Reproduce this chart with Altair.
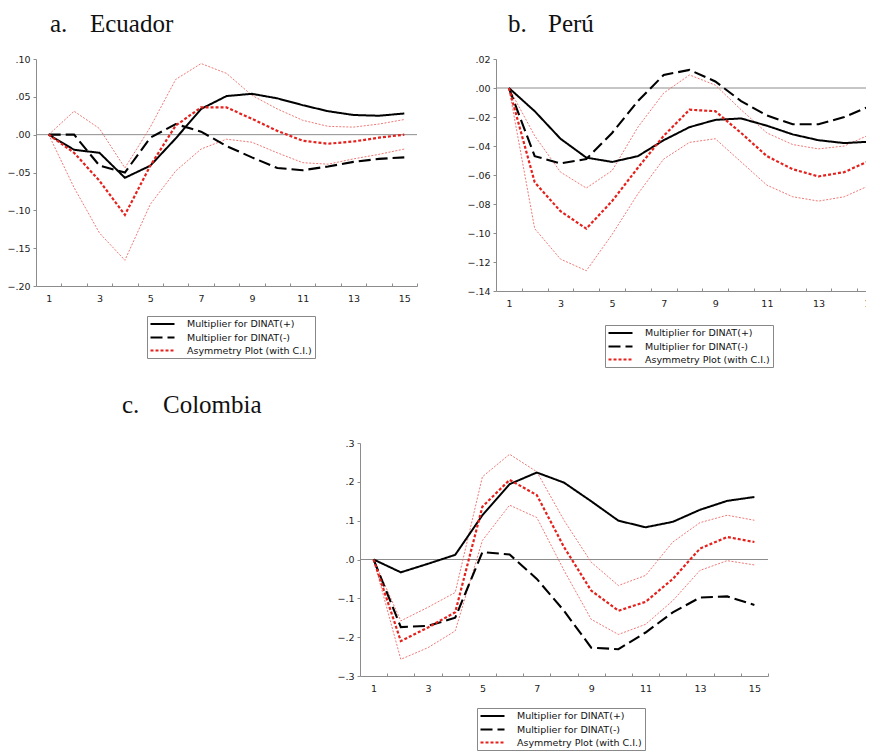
import altair as alt
import pandas as pd

# ---------------- data ----------------
periods = list(range(1, 16))
series_names = ["Multiplier for DINAT(+)", "Multiplier for DINAT(-)", "Asymmetry Plot (with C.I.)"]
ci_names = ["Upper C.I.", "Lower C.I."]

# a. Ecuador
ec_pos = [0, -0.020, -0.024, -0.057, -0.041, -0.005, 0.034, 0.051, 0.054, 0.048, 0.039, 0.031, 0.026, 0.025, 0.028]
ec_neg = [0, 0.000, -0.041, -0.050, -0.004, 0.014, 0.004, -0.015, -0.030, -0.044, -0.047, -0.042, -0.036, -0.032, -0.030]
ec_asym = [0, -0.024, -0.061, -0.106, -0.041, 0.012, 0.036, 0.036, 0.021, 0.005, -0.008, -0.012, -0.009, -0.004, 0.000]
ec_up = [0, 0.031, 0.008, -0.044, 0.010, 0.073, 0.094, 0.081, 0.052, 0.034, 0.019, 0.011, 0.010, 0.014, 0.020]
ec_lo = [0, -0.070, -0.130, -0.166, -0.092, -0.048, -0.019, -0.006, -0.010, -0.024, -0.037, -0.039, -0.032, -0.026, -0.019]

# b. Perú
pe_pos = [0, -0.016, -0.035, -0.048, -0.051, -0.047, -0.036, -0.027, -0.022, -0.021, -0.026, -0.032, -0.036, -0.038, -0.037]
pe_neg = [0, -0.047, -0.052, -0.049, -0.031, -0.009, 0.009, 0.0125, 0.0045, -0.009, -0.019, -0.025, -0.025, -0.020, -0.0125]
pe_asym = [0, -0.065, -0.085, -0.097, -0.078, -0.055, -0.033, -0.015, -0.016, -0.031, -0.047, -0.056, -0.061, -0.058, -0.050]
pe_up = [0, -0.033, -0.058, -0.069, -0.057, -0.027, -0.0035, 0.009, 0.002, -0.015, -0.031, -0.039, -0.042, -0.040, -0.032]
pe_lo = [0, -0.097, -0.118, -0.126, -0.101, -0.073, -0.049, -0.0375, -0.035, -0.051, -0.067, -0.075, -0.078, -0.075, -0.067]

# c. Colombia
co_pos = [0, -0.033, -0.011, 0.012, 0.114, 0.194, 0.224, 0.198, 0.150, 0.100, 0.083, 0.097, 0.128, 0.151, 0.161]
co_neg = [0, -0.174, -0.171, -0.150, 0.019, 0.013, -0.050, -0.132, -0.227, -0.231, -0.188, -0.136, -0.098, -0.095, -0.117]
co_asym = [0, -0.210, -0.175, -0.136, 0.136, 0.205, 0.166, 0.032, -0.080, -0.132, -0.109, -0.050, 0.028, 0.058, 0.045]
co_up = [0, -0.158, -0.123, -0.085, 0.213, 0.271, 0.226, 0.101, -0.007, -0.067, -0.041, 0.045, 0.095, 0.114, 0.101]
co_lo = [0, -0.257, -0.227, -0.184, 0.049, 0.140, 0.108, -0.028, -0.154, -0.193, -0.167, -0.106, -0.028, -0.003, -0.014]

panel_letters = ["a.", "b.", "c."]
panel_names = ["Ecuador", "Perú", "Colombia"]

ec_yticks = [-0.20, -0.15, -0.10, -0.05, 0.00, 0.05, 0.10]
pe_yticks = [-0.14, -0.12, -0.10, -0.08, -0.06, -0.04, -0.02, 0.00, 0.02]
co_yticks = [-0.3, -0.2, -0.1, 0.0, 0.1, 0.2, 0.3]
x_label_ticks = [1, 3, 5, 7, 9, 11, 13, 15]
x_minor_ticks = [p + 0.5 for p in periods]

# ---------------- layout / style ----------------
W, H = 858, 745
AX = "#8c8c8c"
LBL_FONT = "DejaVu Sans"


def panel(pos, neg, asym, up, lo, xr, yr, ydom, yticks, yfmt, legx, legy):
    main = pd.DataFrame({
        "period": periods * 3,
        "value": pos + neg + asym,
        "series": [s for s in series_names for _ in periods],
    })
    ci = pd.DataFrame({
        "period": periods * 2,
        "value": up + lo,
        "bound": [s for s in ci_names for _ in periods],
    })
    xs = alt.Scale(domain=[0.5, 15.5], range=xr, nice=False, zero=False)
    ys = alt.Scale(domain=ydom, range=yr, nice=False, zero=False)

    # labels (no ticks) below the x axis line
    xaxis = alt.Axis(
        orient="bottom", offset=yr[0] - H, title=None, grid=False,
        values=x_label_ticks, format="d", ticks=False, tickSize=0,
        labelOverlap=False, labelFlush=False,
        domainColor=AX, labelPadding=7,
        labelFont=LBL_FONT, labelFontSize=9.5, labelColor="#222",
    )
    # inward (upward) ticks at the period boundaries
    xtickaxis = alt.Axis(
        orient="top", offset=-yr[0], title=None, grid=False,
        values=x_minor_ticks, labels=False, domain=False,
        tickColor=AX, tickSize=3,
    )
    yaxis = alt.Axis(
        orient="left", offset=-xr[0], title=None, grid=False, values=yticks,
        labelExpr=f"replace(format(datum.value, '{yfmt}'), '0.', '.')",
        labelOverlap=False, labelFlush=False,
        domainColor=AX, tickColor=AX, tickSize=3, labelPadding=3,
        labelFont=LBL_FONT, labelFontSize=9.5, labelColor="#222",
    )
    leg = alt.Legend(
        title=None, orient="none", legendX=legx, legendY=legy, direction="vertical",
        symbolType="M-3,0H3", symbolSize=64, symbolStrokeWidth=2, symbolOffset=7,
        labelOffset=19, labelFont=LBL_FONT, labelFontSize=9.5, labelColor="#111",
        labelLimit=400, padding=3, rowPadding=3, strokeColor="#888",
    )

    zero = alt.Chart(pd.DataFrame({"z": [0]})).mark_rule(color=AX, strokeWidth=1).encode(
        x=alt.datum(0.5, scale=xs, axis=xtickaxis),
        x2=alt.datum(15.5),
        y=alt.datum(0.0, scale=ys, axis=None),
    )
    ci_lines = alt.Chart(ci).mark_line(color="#ec6a66", strokeWidth=0.9, strokeDash=[2, 1.5]).encode(
        x=alt.X("period:Q", scale=xs, axis=None),
        y=alt.Y("value:Q", scale=ys, axis=None),
        detail="bound:N",
    )
    main_lines = alt.Chart(main).mark_line().encode(
        x=alt.X("period:Q", scale=xs, axis=xaxis),
        y=alt.Y("value:Q", scale=ys, axis=yaxis),
        color=alt.Color("series:N", scale=alt.Scale(domain=series_names, range=["#000000", "#000000", "#e4211c"]), legend=leg),
        strokeDash=alt.StrokeDash("series:N", scale=alt.Scale(domain=series_names, range=[[1, 0], [12, 5], [3, 2]]), legend=leg),
        strokeWidth=alt.StrokeWidth("series:N", scale=alt.Scale(domain=series_names, range=[2.0, 2.2, 2.8]), legend=None),
        order=alt.Order("order:Q"),
    ).transform_calculate(
        order=f"indexof({series_names[::-1]}, datum.series)"
    )
    return [zero, ci_lines, main_lines]


def title(letter, name, x1, x2, y):
    df = pd.DataFrame({"letter": [letter], "name": [name]})
    base = alt.Chart(df).mark_text(align="left", baseline="alphabetic", font="Liberation Serif",
                                   fontSize=25, color="#111")
    return [
        base.encode(x=alt.value(x1), y=alt.value(y), text="letter:N"),
        base.encode(x=alt.value(x2), y=alt.value(y), text="name:N"),
    ]


layers = []
layers += panel(ec_pos, ec_neg, ec_asym, ec_up, ec_lo, [28, 409], [278, 51], [-0.20, 0.10], ec_yticks, ".2f", 139, 308)
layers += panel(pe_pos, pe_neg, pe_asym, pe_up, pe_lo, [488, 875], [283, 51], [-0.14, 0.02], pe_yticks, ".2f", 597, 317)
layers += panel(co_pos, co_neg, co_asym, co_up, co_lo, [352, 760], [668, 435], [-0.3, 0.3], co_yticks, ".1f", 469, 700)
layers += title(panel_letters[0], panel_names[0], 42, 82, 24)
layers += title(panel_letters[1], panel_names[1], 500, 540, 24)
layers += title(panel_letters[2], panel_names[2], 114, 155, 405)

chart = alt.layer(*layers).resolve_scale(
    x="independent", y="independent", color="independent",
    strokeDash="independent", strokeWidth="independent",
).properties(
    width=W, height=H, padding=0, autosize=alt.AutoSizeParams(type="none"),
).configure_view(strokeWidth=0)

chart.save("out.html", embed_options={"renderer": "svg", "actions": False})
